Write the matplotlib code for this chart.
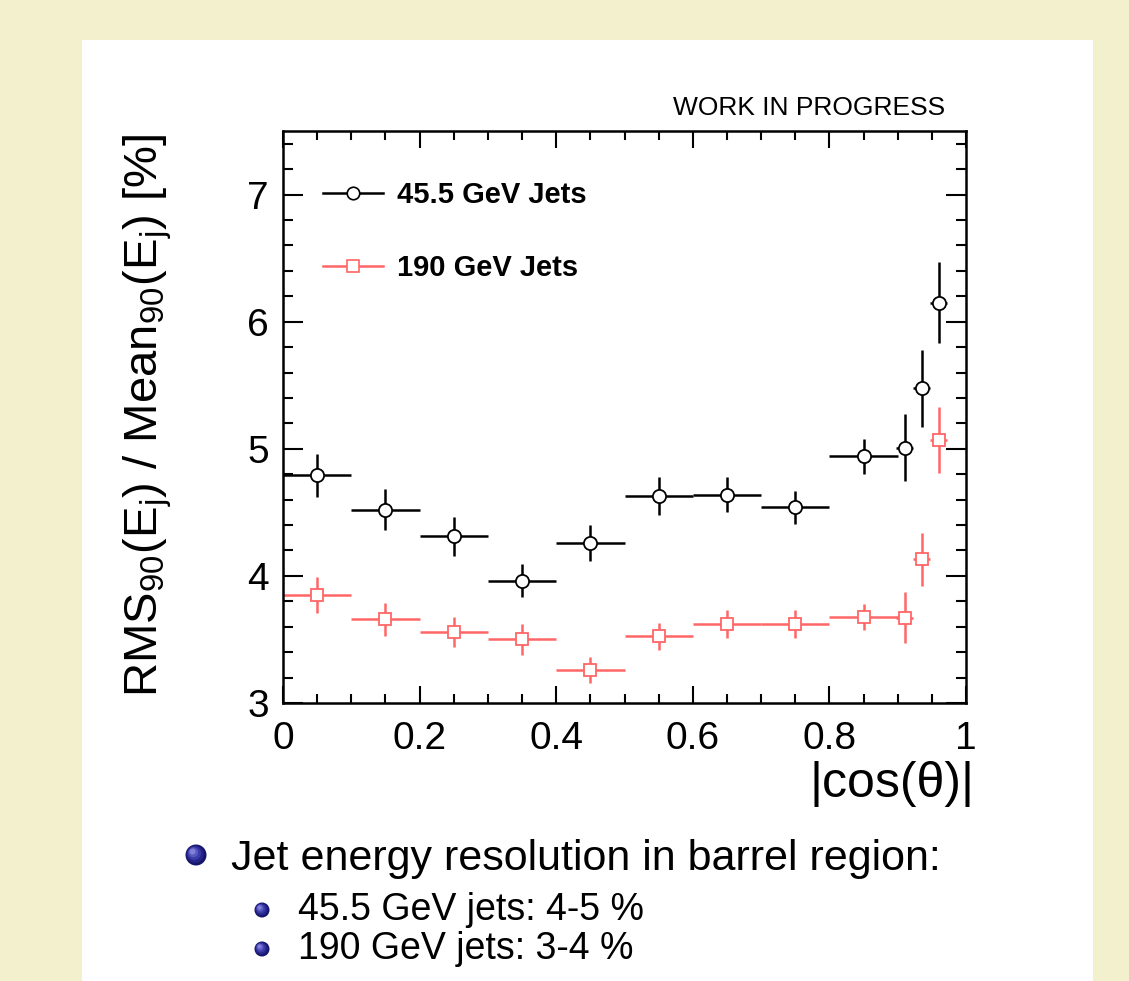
import numpy as np
import matplotlib
matplotlib.use("Agg")
import matplotlib.pyplot as plt
from matplotlib.lines import Line2D
from matplotlib.patches import Rectangle, Circle

# ---------------- data ----------------
x_bins_45 = [0.05, 0.15, 0.25, 0.35, 0.45, 0.55, 0.65, 0.75, 0.85, 0.91, 0.935, 0.96]
xerr_45 = [0.05, 0.05, 0.05, 0.05, 0.05, 0.05, 0.05, 0.05, 0.05, 0.012, 0.012, 0.012]
res_45 = [4.79, 4.52, 4.31, 3.96, 4.26, 4.63, 4.64, 4.54, 4.94, 5.01, 5.475, 6.15]
err_45 = [0.17, 0.16, 0.15, 0.13, 0.14, 0.15, 0.14, 0.13, 0.14, 0.265, 0.30, 0.32]

x_bins_190 = [0.05, 0.15, 0.25, 0.35, 0.45, 0.55, 0.65, 0.75, 0.85, 0.91, 0.935, 0.96]
xerr_190 = [0.05, 0.05, 0.05, 0.05, 0.05, 0.05, 0.05, 0.05, 0.05, 0.012, 0.012, 0.012]
res_190 = [3.85, 3.66, 3.56, 3.50, 3.26, 3.525, 3.62, 3.62, 3.675, 3.67, 4.13, 5.07]
err_190 = [0.14, 0.13, 0.12, 0.12, 0.105, 0.105, 0.11, 0.11, 0.10, 0.20, 0.21, 0.26]

labels = ["45.5 GeV Jets", "190 GeV Jets"]
bullet_main = "Jet energy resolution in barrel region:"
bullet_subs = ["45.5 GeV jets: 4-5 %", "190 GeV jets: 3-4 %"]

# ---------------- style ----------------
plt.rcParams['font.family'] = ['Liberation Sans', 'DejaVu Sans']
plt.rcParams['mathtext.fontset'] = 'custom'
plt.rcParams['mathtext.rm'] = 'Liberation Sans'
plt.rcParams['mathtext.it'] = 'Liberation Sans'
plt.rcParams['mathtext.default'] = 'regular'

W, H = 1129, 981
fig = plt.figure(figsize=(W / 100, H / 100), dpi=100)
fig.patch.set_facecolor('#f2f0cd')

# overlay axes in pixel coordinates (for slide panel & bullets)
bg = fig.add_axes([0, 0, 1, 1], zorder=0)
bg.set_xlim(0, W)
bg.set_ylim(H, 0)
bg.axis('off')
bg.add_patch(Rectangle((82, 40), 1093 - 82, H - 40 + 5, facecolor='white', edgecolor='none'))

# main axes
L, R, T, B = 283, 966, 131, 703
ax = fig.add_axes([L / W, (H - B) / H, (R - L) / W, (B - T) / H], zorder=2)
ax.set_facecolor('white')

black = 'black'
red = '#ff6666'
ax.errorbar(x_bins_45, res_45, xerr=xerr_45, yerr=err_45, fmt='o', color=black,
            mfc='white', mec=black, ms=9.5, mew=1.3, elinewidth=1.8, capsize=0, zorder=3)
ax.errorbar(x_bins_190, res_190, xerr=xerr_190, yerr=err_190, fmt='s', color=red,
            mfc='white', mec=red, ms=8.5, mew=1.3, elinewidth=1.8, capsize=0, zorder=2)

ax.set_xlim(0, 1)
ax.set_ylim(3, 7.5)
ax.set_xticks(np.arange(0, 1.01, 0.2))
ax.set_xticks(np.arange(0, 1.001, 0.05), minor=True)
ax.set_yticks(np.arange(3, 7.01, 1))
ax.set_yticks(np.arange(3, 7.51, 0.2), minor=True)
ax.set_xticklabels(['0', '0.2', '0.4', '0.6', '0.8', '1'])
ax.set_yticklabels(['3', '4', '5', '6', '7'])

for s in ax.spines.values():
    s.set_linewidth(1.8)
ax.tick_params(axis='both', which='both', direction='in', top=True, right=True, width=1.5)
ax.tick_params(axis='x', which='major', length=12.5, labelsize=28, pad=13)
ax.tick_params(axis='x', which='minor', length=6.2)
ax.tick_params(axis='y', which='major', length=14.5, labelsize=28, pad=10)
ax.tick_params(axis='y', which='minor', length=7.2)

# legend
handles = [
    Line2D([], [], color=black, lw=1.8, marker='o', ms=9, mfc='white', mec=black, mew=1.2),
    Line2D([], [], color=red, lw=1.8, marker='s', ms=8.5, mfc='white', mec=red, mew=1.2),
]
ax.legend(handles, labels, loc='upper left', bbox_to_anchor=(40 / 683, 0.9126),
          frameon=False, prop={'weight': 'bold', 'size': 21}, handlelength=2.05,
          handletextpad=0.48, labelspacing=1.56, borderpad=0, borderaxespad=0)

# axis titles
fig.text(148 / W, 1 - 415 / H, r'RMS$_{90}$(E$_{j}$) / Mean$_{90}$(E$_{j}$) [%]',
         rotation=90, ha='center', va='center', fontsize=34)
fig.text(975 / W, 1 - 784 / H, '|cos(θ)|', ha='right', va='center', fontsize=36)
fig.text(945 / W, 1 - 108 / H, 'WORK IN PROGRESS', ha='right', va='center', fontsize=19)

# bullets
def sphere(cx, cy, r):
    for i, c in enumerate(['#15156a', '#24248a', '#3a3aa8', '#5858c0', '#8080d8']):
        f = 1 - i * 0.18
        off = (1 - f) * r * 0.45
        bg.add_patch(Circle((cx - off, cy - off), r * f, facecolor=c, edgecolor='none', zorder=3))

sphere(196, 855, 10.5)
bg.text(231, 870, bullet_main, fontsize=31, ha='left', va='baseline', zorder=3)
sub_y = [910, 949]
for yy, t in zip(sub_y, bullet_subs):
    sphere(262, yy, 7.5)
    bg.text(298, yy + 10, t, fontsize=27, ha='left', va='baseline', zorder=3)

fig.savefig('out.png', dpi=100, facecolor=fig.get_facecolor())
